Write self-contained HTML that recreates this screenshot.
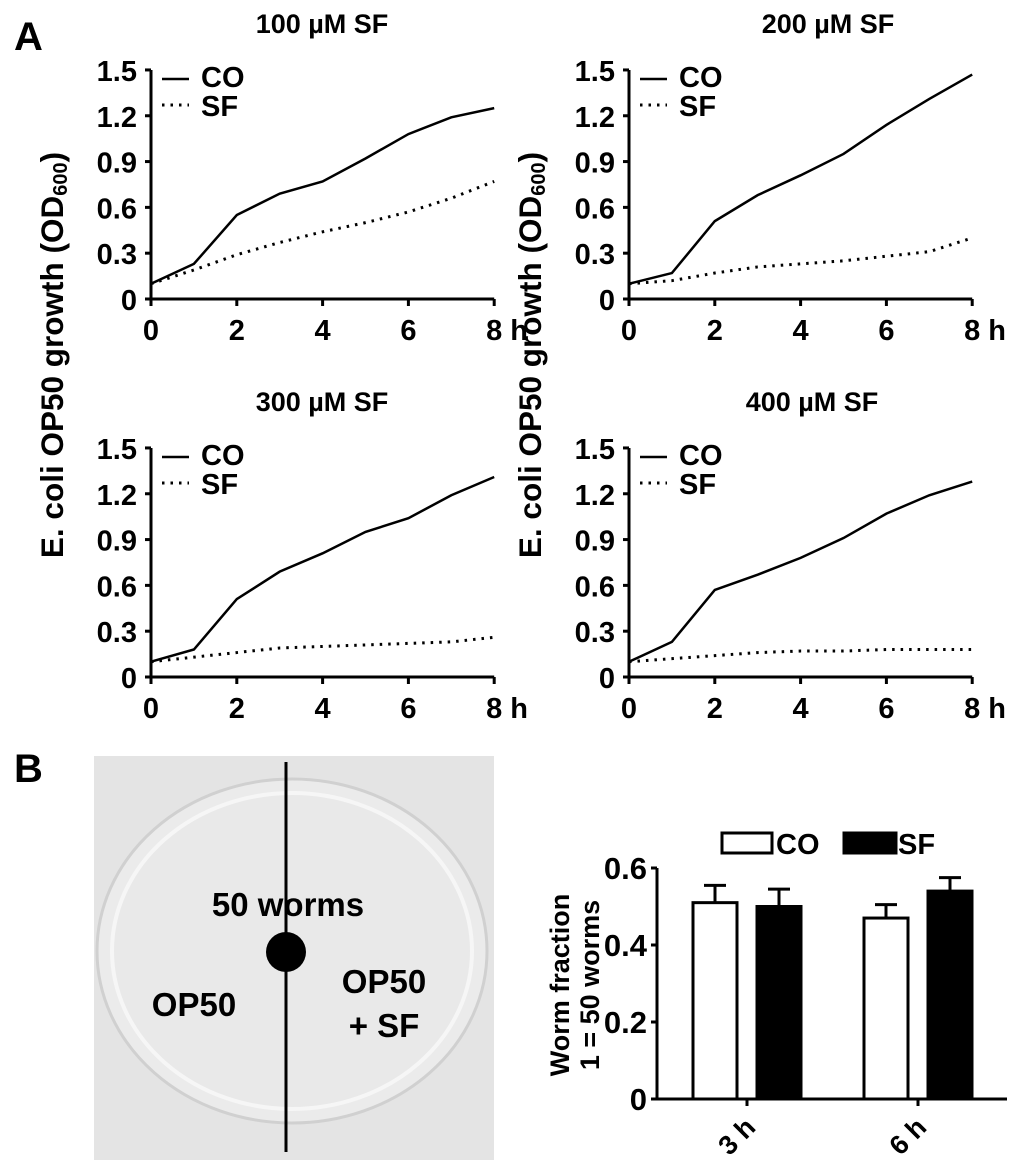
<!DOCTYPE html>
<html><head><meta charset="utf-8">
<style>
body{margin:0;background:#fff;}
svg text{font-family:"Liberation Sans",Arial,sans-serif;font-weight:bold;fill:#000;}
</style></head>
<body>
<svg id="fig" width="1020" height="1171" viewBox="0 0 1020 1171" xmlns="http://www.w3.org/2000/svg">
<text x="14" y="50" font-size="40">A</text>
<text x="14" y="782" font-size="40">B</text>
<text transform="translate(63,355) rotate(-90)" text-anchor="middle" font-size="31.5">E. coli OP50 growth (OD<tspan font-size="20" dy="4">600</tspan><tspan dy="-4">)</tspan></text>
<text transform="translate(541,355) rotate(-90)" text-anchor="middle" font-size="31.5">E. coli OP50 growth (OD<tspan font-size="20" dy="4">600</tspan><tspan dy="-4">)</tspan></text>
<g id="lines"></g>
<g id="photo">
<rect x="94" y="756" width="400" height="404" fill="#e4e4e4"/>
<ellipse cx="292" cy="951" rx="195" ry="172" fill="#ebebeb" stroke="#d0d0d0" stroke-width="3"/>
<ellipse cx="292" cy="951" rx="180" ry="158" fill="#e9e9e9" stroke="#f6f6f6" stroke-width="4"/>
<line x1="286" y1="762" x2="286" y2="1152" stroke="#000" stroke-width="3"/>
<circle cx="286" cy="952" r="20" fill="#000"/>
<text x="288" y="916" text-anchor="middle" font-size="33">50 worms</text>
<text x="194" y="1016" text-anchor="middle" font-size="33">OP50</text>
<text x="384" y="993" text-anchor="middle" font-size="33">OP50</text>
<text x="384" y="1037" text-anchor="middle" font-size="33">+ SF</text>
</g>
<g id="bars"></g>
</svg>
<script>
const hours=[0,1,2,3,4,5,6,7,8];
const co100=[0.10,0.23,0.55,0.69,0.77,0.92,1.08,1.19,1.25];
const sf100=[0.10,0.19,0.29,0.37,0.44,0.50,0.57,0.66,0.77];
const co200=[0.10,0.17,0.51,0.68,0.81,0.95,1.14,1.31,1.47];
const sf200=[0.10,0.12,0.17,0.21,0.23,0.25,0.28,0.31,0.40];
const co300=[0.10,0.18,0.51,0.69,0.81,0.95,1.04,1.19,1.31];
const sf300=[0.10,0.13,0.16,0.19,0.20,0.21,0.22,0.23,0.26];
const co400=[0.10,0.23,0.57,0.67,0.78,0.91,1.07,1.19,1.28];
const sf400=[0.10,0.12,0.14,0.16,0.17,0.17,0.18,0.18,0.18];
const yTicks=[0,0.3,0.6,0.9,1.2,1.5];
const yTickLabels=["0","0.3","0.6","0.9","1.2","1.5"];
const xTicks=[0,2,4,6,8];
const panelTitles=["100 µM SF","200 µM SF","300 µM SF","400 µM SF"];
const barGroups=["3 h","6 h"];
const barCO=[0.51,0.47];
const barSF=[0.50,0.54];
const errCO=[0.045,0.035];
const errSF=[0.045,0.035];
const barTicks=[0,0.2,0.4,0.6];
const barTickLabels=["0","0.2","0.4","0.6"];

const NS="http://www.w3.org/2000/svg";
function mk(tag,attrs,parent,txt){const e=document.createElementNS(NS,tag);for(const k in attrs)e.setAttribute(k,attrs[k]);if(txt!==undefined)e.textContent=txt;parent.appendChild(e);return e;}
const L=document.getElementById('lines');
const panels=[
 {ox:151,oy:299,tx:322,co:co100,sf:sf100},
 {ox:629,oy:299,tx:828,co:co200,sf:sf200},
 {ox:151,oy:677,tx:322,co:co300,sf:sf300},
 {ox:629,oy:677,tx:812,co:co400,sf:sf400}];
panels.forEach((p,i)=>{
 const g=mk('g',{},L);
 
 
 const sx=h=>p.ox+h*42.9, sy=v=>p.oy-v*152.7;
 const t=mk('text',{x:p.tx,y:p.oy-266,'text-anchor':'middle','font-size':27},g,panelTitles[i]);
 
 
 const ya=mk('line',{x1:p.ox,y1:sy(1.5),x2:p.ox,y2:p.oy,stroke:'#000','stroke-width':3},g);
 
 
 const xa=mk('line',{x1:p.ox-6,y1:p.oy,x2:sx(8),y2:p.oy,stroke:'#000','stroke-width':3},g);
 
 
 yTicks.forEach((v,j)=>{
  mk('line',{x1:p.ox-6,y1:sy(v),x2:p.ox,y2:sy(v),stroke:'#000','stroke-width':3},g);
  const tl=mk('text',{x:p.ox-14,y:sy(v)+11,'text-anchor':'end','font-size':29},g,yTickLabels[j]);
  
  
 });
 xTicks.forEach(h=>{
  mk('line',{x1:sx(h),y1:p.oy,x2:sx(h),y2:p.oy+7,stroke:'#000','stroke-width':3},g);
  const tl=mk('text',{x:sx(h),y:p.oy+41,'text-anchor':'middle','font-size':29},g,String(h));
  
  
 });
 const hl=mk('text',{x:sx(8)+16,y:p.oy+41,'font-size':29},g,'h');
 
 
 const c=mk('polyline',{points:hours.map((h,k)=>sx(h)+','+sy(p.co[k])).join(' '),fill:'none',stroke:'#000','stroke-width':2.5},g);
 
 
 const s=mk('polyline',{points:hours.map((h,k)=>sx(h)+','+sy(p.sf[k])).join(' '),fill:'none',stroke:'#000','stroke-width':3,'stroke-dasharray':'2.5 6'},g);
 
 
 const lg=mk('g',{},g);
 
 
 mk('line',{x1:p.ox+11,y1:sy(1.5)+9,x2:p.ox+38,y2:sy(1.5)+9,stroke:'#000','stroke-width':2.5},lg);
 mk('text',{x:p.ox+50,y:sy(1.5)+17,'font-size':29},lg,'CO');
 mk('line',{x1:p.ox+11,y1:sy(1.5)+35,x2:p.ox+38,y2:sy(1.5)+35,stroke:'#000','stroke-width':3,'stroke-dasharray':'2.5 6'},lg);
 mk('text',{x:p.ox+50,y:sy(1.5)+46,'font-size':29},lg,'SF');
});
// bar chart
const B=document.getElementById('bars');
const bx0=657,by0=1099,bk=(1099-868)/0.6;
const by=v=>by0-v*bk;
const groupCenters=[747,918];
const bw=44;
mk('line',{x1:bx0,y1:by(0.6),x2:bx0,y2:by0,stroke:'#000','stroke-width':3},B);
mk('line',{x1:bx0-6,y1:by0,x2:1007,y2:by0,stroke:'#000','stroke-width':3},B);
barTicks.forEach((v,j)=>{
 mk('line',{x1:bx0-6,y1:by(v),x2:bx0,y2:by(v),stroke:'#000','stroke-width':3},B);
 const tl=mk('text',{x:bx0-10,y:by(v)+11,'text-anchor':'end','font-size':31},B,barTickLabels[j]);
 
 
});
barGroups.forEach((lab,i)=>{
 const cx=groupCenters[i];
 mk('line',{x1:cx,y1:by0,x2:cx,y2:by0+7,stroke:'#000','stroke-width':3},B);
 const tl=mk('text',{transform:`translate(${cx+10},${by0+30}) rotate(-45)`,'text-anchor':'end','font-size':27},B,lab);
 
 
 [[barCO,errCO,'#fff',-54,'co'],[barSF,errSF,'#000',10,'sf']].forEach(([vals,errs,fill,off,nm])=>{
  const x=cx+off,v=vals[i],e=errs[i];
  const el=mk('line',{x1:x+bw/2,y1:by(v),x2:x+bw/2,y2:by(v+e),stroke:'#000','stroke-width':3},B);
  
  
  mk('line',{x1:x+bw/2-11,y1:by(v+e),x2:x+bw/2+11,y2:by(v+e),stroke:'#000','stroke-width':3},B);
  const r=mk('rect',{x:x,y:by(v),width:bw,height:by0-by(v),fill:fill,stroke:'#000','stroke-width':3},B);
  
  
 });
});
const bl=mk('g',{},B);


mk('rect',{x:722,y:833,width:50,height:20,fill:'#fff',stroke:'#000','stroke-width':3},bl);
mk('text',{x:776,y:854,'font-size':29},bl,'CO');
mk('rect',{x:844,y:833,width:52,height:20,fill:'#000',stroke:'#000','stroke-width':3},bl);
mk('text',{x:898,y:854,'font-size':29},bl,'SF');
const yt=mk('text',{transform:'translate(569,985) rotate(-90)','text-anchor':'middle','font-size':27},B);


mk('tspan',{x:0,dy:0},yt,'Worm fraction');
mk('tspan',{x:0,dy:30},yt,'1 = 50 worms');
</script>
</body></html>
